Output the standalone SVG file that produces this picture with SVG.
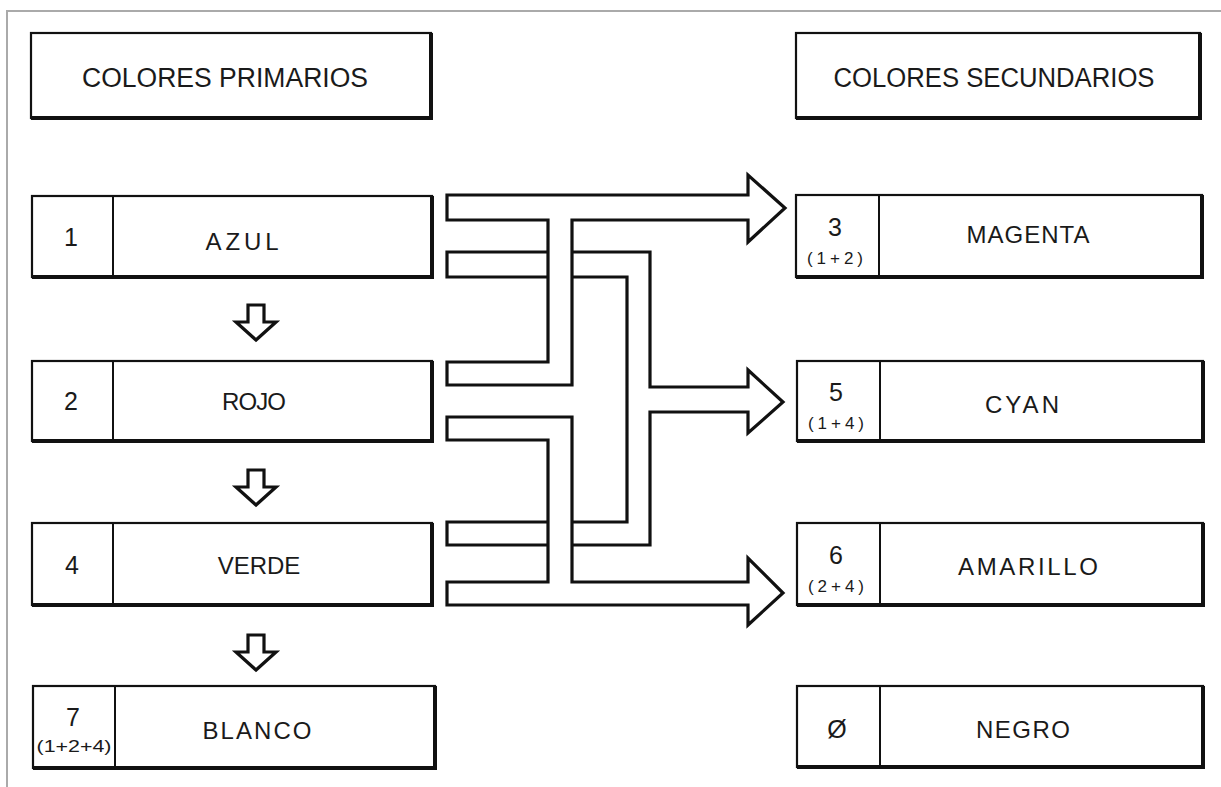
<svg xmlns="http://www.w3.org/2000/svg" width="1221" height="787" viewBox="0 0 1221 787">
<style>
.box{fill:#fff;stroke:#111;stroke-width:2.2}
.shadow{fill:none;stroke:#111;stroke-width:4}
.div{stroke:#111;stroke-width:2}
.pipe{fill:#fff;stroke:#111;stroke-width:3.2;stroke-linejoin:miter}
.lbl{font-family:"Liberation Sans",Arial,sans-serif;font-size:24px;fill:#1a1a1a;text-anchor:middle}
.hdr{font-family:"Liberation Sans",Arial,sans-serif;font-size:27px;fill:#1a1a1a;text-anchor:middle}
.num{font-family:"Liberation Sans",Arial,sans-serif;font-size:25px;fill:#1a1a1a;text-anchor:middle}
.sub{font-family:"Liberation Sans",Arial,sans-serif;font-size:17px;fill:#1a1a1a;text-anchor:middle}
</style>
<rect width="1221" height="787" fill="#fff"/>
<path d="M7,787 V11 H1221" fill="none" stroke="#aaa" stroke-width="2"/>

<g id="hdr-primarios">
<rect class="box" x="31" y="33" width="400" height="85"/>
<path class="shadow" d="M431,33 V118 H31"/>
<text class="hdr" x="225" y="87" textLength="286" lengthAdjust="spacingAndGlyphs">COLORES PRIMARIOS</text>
</g>
<g id="hdr-secundarios">
<rect class="box" x="796" y="33" width="404" height="85"/>
<path class="shadow" d="M1200,33 V118 H796"/>
<text class="hdr" x="994" y="87" textLength="321" lengthAdjust="spacingAndGlyphs">COLORES SECUNDARIOS</text>
</g>

<g id="azul">
<rect class="box" x="32" y="196" width="400" height="81"/>
<path class="shadow" d="M432,196 V277 H32"/>
<line class="div" x1="113" y1="196" x2="113" y2="277"/>
<text class="num" x="71" y="246">1</text>
<text class="lbl" x="242" y="250" textLength="73" lengthAdjust="spacing">AZUL</text>
</g>
<g id="rojo">
<rect class="box" x="32" y="361" width="400" height="80"/>
<path class="shadow" d="M432,361 V441 H32"/>
<line class="div" x1="113" y1="361" x2="113" y2="441"/>
<text class="num" x="71" y="410">2</text>
<text class="lbl" x="254" y="410" textLength="64" lengthAdjust="spacing">ROJO</text>
</g>
<g id="verde">
<rect class="box" x="32" y="523" width="400" height="82"/>
<path class="shadow" d="M432,523 V605 H32"/>
<line class="div" x1="113" y1="523" x2="113" y2="605"/>
<text class="num" x="72" y="574">4</text>
<text class="lbl" x="259" y="574">VERDE</text>
</g>
<g id="blanco">
<rect class="box" x="33" y="686" width="402" height="82"/>
<path class="shadow" d="M435,686 V768 H33"/>
<line class="div" x1="115" y1="686" x2="115" y2="768"/>
<text class="num" x="73" y="726">7</text>
<text class="sub" x="74" y="752" textLength="75" lengthAdjust="spacingAndGlyphs">(1+2+4)</text>
<text class="lbl" x="257" y="739" textLength="109" lengthAdjust="spacing">BLANCO</text>
</g>

<g id="magenta">
<rect class="box" x="796" y="195" width="406" height="82"/>
<path class="shadow" d="M1202,195 V277 H796"/>
<line class="div" x1="879" y1="195" x2="879" y2="277"/>
<text class="num" x="835" y="236">3</text>
<text class="sub" x="835" y="264" textLength="56" lengthAdjust="spacing">(1+2)</text>
<text class="lbl" x="1028" y="243" textLength="123" lengthAdjust="spacing">MAGENTA</text>
</g>
<g id="cyan">
<rect class="box" x="797" y="361" width="406" height="80"/>
<path class="shadow" d="M1203,361 V441 H797"/>
<line class="div" x1="880" y1="361" x2="880" y2="441"/>
<text class="num" x="836" y="401">5</text>
<text class="sub" x="836" y="429" textLength="56" lengthAdjust="spacing">(1+4)</text>
<text class="lbl" x="1022" y="413" textLength="74" lengthAdjust="spacing">CYAN</text>
</g>
<g id="amarillo">
<rect class="box" x="797" y="523" width="406" height="82"/>
<path class="shadow" d="M1203,523 V605 H797"/>
<line class="div" x1="880" y1="523" x2="880" y2="605"/>
<text class="num" x="836" y="564">6</text>
<text class="sub" x="836" y="592" textLength="56" lengthAdjust="spacing">(2+4)</text>
<text class="lbl" x="1028" y="575" textLength="140" lengthAdjust="spacing">AMARILLO</text>
</g>
<g id="negro">
<rect class="box" x="797" y="686" width="406" height="81"/>
<path class="shadow" d="M1203,686 V767 H797"/>
<line class="div" x1="880" y1="686" x2="880" y2="767"/>
<text class="num" x="837" y="738">Ø</text>
<text class="lbl" x="1023" y="738" textLength="94" lengthAdjust="spacing">NEGRO</text>
</g>

<g id="connectors">
<path class="pipe" d="M256,305 m-8,0 h16 v17 h12 l-20,18 l-20,-18 h12 z"/>
<path class="pipe" d="M256,470 m-8,0 h16 v17 h12 l-20,18 l-20,-18 h12 z"/>
<path class="pipe" d="M256,635 m-8,0 h16 v17 h12 l-20,18 l-20,-18 h12 z"/>
<path class="pipe" d="M447,252 H650 V387 H748 V370 L783,402 L748,433 V412 H650 V545 H447 V522 H627 V277 H447 Z"/>
<path class="pipe" d="M447,195 H748 V175 L785,208 L748,242 V220 H572 V385 H447 V362 H548 V220 H447 Z"/>
<path class="pipe" d="M447,417 H572 V582 H748 V558 L783,593 L748,625 V605 H447 V582 H548 V440 H447 Z"/>
</g>
</svg>
